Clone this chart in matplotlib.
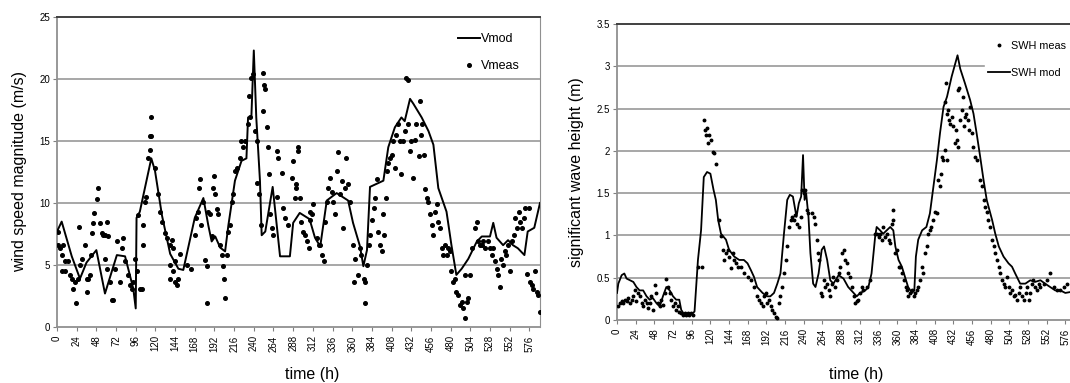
import matplotlib
matplotlib.use("Agg")
import matplotlib.pyplot as plt

plt.rcParams["font.family"] = ["Liberation Sans", "DejaVu Sans"]

# ---- left panel: wind speed (m/s) ----
vmod_t = [0, 5.7, 18, 28, 36, 48, 58.5, 73, 83, 93, 96, 97, 101, 115, 119.5, 128, 138, 148,
          154, 168, 178.5, 184.5, 188.6, 193, 199, 205, 209, 217, 225, 231, 233, 237, 240,
          243, 247.5, 249.6, 254, 263, 272, 284, 288, 296, 308, 314.6, 321, 329, 341, 355,
          361, 369.5, 373.6, 378, 381.7, 398, 404, 412, 420, 424, 430.5, 434.6, 444.7, 453,
          459, 465, 475, 481, 487, 493.5, 501.6, 512, 518, 528, 532, 536, 544, 550, 556, 562,
          570, 574, 582, 589]
vmod_v = [7.7, 8.5, 5.7, 3.9, 5.2, 6.2, 2.7, 5.8, 5.7, 3.1, 1.5, 8.8, 9.3, 13.6, 12.6, 9.0,
          5.9, 4.7, 4.6, 8.8, 10.4, 8.2, 6.9, 7.3, 6.4, 6.1, 8.2, 11.8, 13.4, 13.6, 16.9, 16.9,
          22.3, 16.9, 11.8, 7.4, 7.7, 11.3, 5.7, 5.7, 8.4, 9.2, 8.7, 7.2, 6.5, 10.2, 10.8, 10.2,
          8.4, 6.5, 4.9, 6.2, 11.3, 11.8, 14.5, 16.1, 16.9, 16.6, 18.4, 18.0, 16.9, 15.8, 14.7,
          11.2, 9.3, 6.6, 4.2, 4.7, 5.5, 6.9, 7.3, 7.3, 8.4, 7.2, 6.6, 7.0, 6.6, 6.35, 5.8, 7.7,
          8.0, 10.0]

vmeas_t = [0.8, 1.6, 3.7, 5.7, 7.7, 9.8, 13.8, 5.7, 9.8, 15.9, 17.9, 19.9, 22, 22.8, 26, 28,
           26.8, 30, 34, 36, 36, 38, 40, 42, 43, 44, 45.5, 48.4, 49.6, 52.4, 54.5, 56.5, 58.5,
           60.6, 62.6, 58.5, 60.6, 64.6, 66.7, 68.7, 70.7, 72.8, 76.8, 78.9, 80.9, 83, 87, 89,
           91, 93, 95, 97, 101, 104, 99, 105, 105, 107, 109, 111, 113, 115, 113, 114.6, 119.5,
           123.6, 125.6, 127.6, 131.7, 134, 138, 140, 142, 144, 138, 138, 142, 144, 146, 148,
           150, 158, 164, 168, 170, 172, 173, 174, 176, 178.5, 180.5, 182.5, 183, 184.5, 186.6,
           188.6, 190.7, 191.9, 192.7, 194.7, 196.7, 198.8, 200.8, 203, 204, 205, 207, 209, 211,
           213, 215, 217, 220, 223, 224, 227, 229, 233, 234.5, 235, 237, 239, 241.5, 243.5,
           243.5, 246, 249, 250.8, 252.8, 253.7, 251, 256, 257, 259, 259.8, 262, 264, 268, 268,
           270, 274, 276, 278, 282, 286, 288, 290, 292, 293.5, 294,
           292, 296, 298, 300, 302, 305, 307, 309, 309, 311, 312.6, 317, 319, 321, 323, 325,
           327, 329, 331, 333, 335, 337, 339, 341, 343, 345, 347, 349, 351, 353, 355, 357, 361,
           363, 362, 367, 369, 371, 374, 375, 376, 378, 380, 382, 384, 386, 388, 390, 392, 394,
           396, 398, 399, 401, 402, 404, 406, 408, 410, 412, 414, 416, 418, 420, 422, 424, 426,
           428, 428, 430.5, 432, 434, 436, 438, 441, 443, 444, 445, 447, 449, 451, 453, 455,
           457, 459, 461, 463, 465, 467, 469, 471, 473, 475, 477, 479, 481, 483, 485, 487, 489,
           491, 493.5, 495.5, 497.6, 499.6, 501.6, 497.6, 503.7, 505.7, 510, 512, 514, 516, 518,
           520, 522, 526, 528, 530, 532, 534, 536, 538, 540, 542, 544, 546, 548, 550, 553, 555,
           557, 559, 561, 563, 565, 567, 569, 571, 573, 575, 577, 579, 581, 583, 585, 587, 589]
vmeas_v = [7.7, 6.6, 6.4, 5.8, 6.6, 5.3, 5.3, 4.5, 4.5, 4.2, 3.9, 3.1, 3.6, 1.9, 3.9, 5.0,
           8.1, 5.5, 6.6, 3.9, 2.8, 3.9, 4.2, 5.8, 7.6, 8.4, 9.2, 10.3, 11.2, 8.4, 7.6, 7.4, 7.4,
           8.5, 7.3, 5.5, 4.7, 3.6, 2.2, 2.2, 4.7, 6.9, 3.6, 6.4, 7.2, 5.3, 4.2, 3.4, 3.1, 3.6,
           5.5, 4.5, 3.1, 3.1, 9.0, 6.6, 8.2, 10.1, 10.5, 13.6, 14.3, 15.4, 15.4, 16.9, 12.8,
           10.7, 9.3, 8.5, 7.6, 7.2, 6.6, 7.0, 6.4, 5.3, 5.0, 3.9, 4.5, 3.6, 3.4, 3.9, 5.9, 5.0,
           4.7, 7.4, 8.8, 9.3, 11.2, 11.9, 8.2, 10.1, 5.4, 4.9, 1.9, 9.3, 9.1, 7.3, 11.2, 12.2,
           10.7, 9.5, 9.1, 6.6, 5.8, 4.9, 3.9, 2.3, 5.8, 7.7, 8.2, 10.1, 10.7, 12.6, 12.8, 13.6,
           15.0, 14.5, 15.0, 16.4, 18.6, 16.9, 20.1, 20.4, 15.8, 15.0, 11.6, 10.7, 8.2, 20.5,
           19.5, 19.2, 17.4, 16.1, 14.5, 12.3, 9.1, 8.0, 7.4, 14.2, 10.5, 13.6, 12.4, 9.6, 8.8,
           8.2, 12.0, 13.4, 10.4, 11.2, 14.2, 14.5,
           11.5, 10.4, 8.5, 7.7, 7.4, 6.9, 6.4, 8.6, 9.3, 9.1, 9.9, 7.2, 6.6, 6.6, 5.8, 5.3,
           8.5, 10.1, 11.2, 12.0, 10.9, 10.1, 9.1, 12.6, 14.1, 10.7, 11.8, 8.0, 11.2, 13.6, 11.5,
           10.1, 6.6, 5.5, 3.6, 4.2, 6.4, 5.8, 3.9, 1.9, 3.6, 5.0, 6.6, 7.4, 8.6, 9.6, 10.4,
           11.9, 7.7, 6.6, 6.1, 9.1, 7.4, 10.4, 12.6, 13.2, 13.6, 13.9, 15.0, 12.8, 15.5, 16.4,
           15.0, 12.3, 15.0, 15.8, 20.1, 19.9, 16.4, 14.2, 15.0, 12.0, 15.1, 16.4, 13.8, 18.2,
           15.5, 16.4, 13.9, 11.1, 10.4, 10.1, 9.1, 8.2, 7.4, 9.3, 9.9, 8.5, 8.0, 6.4, 5.8, 6.6,
           5.8, 6.4, 6.1, 4.5, 3.6, 3.9, 2.8, 2.6, 1.8, 2.0, 1.5, 0.7, 2.0, 2.3, 4.2, 4.2, 6.4,
           8.0, 8.5, 6.9, 6.6, 6.6, 6.9, 6.4, 6.9, 6.4, 5.8, 6.4, 5.3, 4.7, 4.2, 3.2, 5.5, 5.0,
           6.1, 5.8, 6.6, 4.5, 6.9, 7.4, 8.8, 8.0, 9.3, 8.5, 8.0, 8.8, 9.6, 4.3, 9.6, 3.6, 3.4,
           3.1, 4.5, 2.8, 2.6, 1.2]

# ---- right panel: significant wave height (m) ----
swhmod_t = [0, 1.7, 6, 9.4, 12.3, 16.6, 21, 25, 29, 33.6, 38, 42, 46, 50.6, 55, 59, 63.4,
            67.7, 72, 76, 80, 82.5, 86.8, 95, 99.6, 104, 108, 111.5, 115.7, 120, 124, 127,
            130, 133.6, 140, 144, 150.6, 157, 163, 167.7, 172, 176, 180, 187, 193, 197, 201.7,
            206, 210, 214.5, 218.7, 222, 226, 230.6, 233.6, 236.6, 239, 241, 243, 246, 248.5,
            252, 255, 259, 263, 266, 270, 274, 278, 284.7, 291, 297, 304, 308, 312.5, 319, 323,
            327, 331.6, 333.6, 338, 342, 346.6, 351, 355, 357.6, 361.7, 366, 370, 374, 379, 382,
            384, 387, 392, 397.5, 402, 406.6, 411, 415, 419.5, 424, 430, 434.5, 437.5, 441, 447,
            453.7, 458, 462, 466.6, 471, 475, 482, 486, 490.5, 496.6, 503, 507.5, 511.6, 518,
            524.6, 531, 537, 544, 550, 556.5, 563, 569.5, 576, 582]
swhmod_h = [0.32, 0.43, 0.53, 0.55, 0.49, 0.47, 0.45, 0.39, 0.35, 0.35, 0.28, 0.24, 0.26,
            0.20, 0.16, 0.28, 0.39, 0.35, 0.28, 0.24, 0.24, 0.12, 0.06, 0.06, 0.10, 0.71, 1.06,
            1.69, 1.75, 1.73, 1.54, 1.42, 1.18, 1.02, 0.95, 0.83, 0.75, 0.71, 0.71, 0.67, 0.59,
            0.51, 0.39, 0.32, 0.28, 0.28, 0.32, 0.43, 0.55, 1.02, 1.42, 1.48, 1.46, 1.22, 1.38,
            1.46, 1.95, 1.42, 1.50, 1.22, 0.79, 0.43, 0.39, 0.55, 0.83, 0.87, 0.71, 0.47, 0.43,
            0.53, 0.49, 0.39, 0.32, 0.28, 0.32, 0.35, 0.39, 0.55, 0.98, 1.10, 1.06, 1.02, 1.06,
            1.10, 1.06, 0.87, 0.71, 0.63, 0.51, 0.39, 0.32, 0.35, 0.75, 0.95, 1.06, 1.10, 1.26,
            1.58, 1.89, 2.21, 2.52, 2.64, 2.88, 3.03, 3.13, 2.97, 2.80, 2.60, 2.44, 2.21, 1.93,
            1.65, 1.42, 1.18, 1.02, 0.87, 0.75, 0.67, 0.63, 0.55, 0.43, 0.43, 0.47, 0.45, 0.47,
            0.43, 0.39, 0.35, 0.35, 0.32, 0.33]

swhmeas_t = [1.7, 3.8, 6, 8, 10, 12.3, 14.5, 16.6, 18.7, 21, 23, 25, 27, 29.4, 31.5, 33.6,
             35.7, 38, 40, 42, 44, 46, 48.5, 50.6, 53, 55, 57, 59, 61.3, 63.4, 65.5, 67.7, 70,
             72, 74, 76, 78, 80, 82.5, 84.7, 86.8, 89, 91, 93, 95, 97.4, 104, 109, 112, 113,
             114.5, 115.7, 116.6, 118.7, 120.8, 123, 125, 127, 131.5, 133.6, 135.7, 138, 140,
             142, 144, 146, 148.5, 150.6, 152.8, 155, 159, 163, 167.7, 172, 176, 180, 182.5,
             184.7, 187, 189, 191, 193, 195, 197.4, 199.6, 201.7, 204, 205, 208, 210, 212,
             214.5, 216.6, 218.7, 221, 223, 225, 227, 229, 231.5, 234, 236, 238, 240, 242, 244,
             246, 250.6, 252.8, 255, 257, 258, 259, 262, 263, 265.5, 267.7, 270, 272, 274, 276,
             278, 280, 282.6, 285, 287,
             289, 291, 293, 296, 297, 299.5, 301.6, 304, 306, 308, 310, 312.5, 314.5, 316.6,
             321, 325, 331.6, 334, 336, 338, 340, 342, 344, 346.6, 349, 351, 353, 354, 355,
             357.6, 359.5, 361.7, 364, 366, 368.6, 370.7, 372.5, 374.5, 376.6, 379, 381, 383,
             385, 387, 389.5, 392, 393.5, 395.6, 398, 400, 402, 404, 406, 408, 410.6, 413, 415,
             416, 417, 419, 421.5, 424, 421.5, 422.8, 424, 425, 426, 428, 430, 432, 434, 435,
             437, 437.5, 438.7, 440, 441, 443, 444.5, 446, 447, 449, 451, 452.6, 454, 456, 458,
             460, 462, 466, 469, 471, 473, 475, 477, 479.5, 482, 484, 486, 488, 490.5, 492, 494,
             497, 498.7, 501, 503, 505, 507.5, 510, 511.6, 514, 516, 518, 520, 523, 525, 527,
             529, 531, 533, 535, 537.5, 539, 542, 544, 548, 552, 556.5, 561, 565, 569.5, 574,
             578]
swhmeas_h = [0.16, 0.20, 0.22, 0.20, 0.24, 0.22, 0.26, 0.20, 0.24, 0.28, 0.35, 0.22, 0.32,
             0.28, 0.20, 0.16, 0.24, 0.20, 0.14, 0.20, 0.28, 0.12, 0.41, 0.32, 0.20, 0.16, 0.24,
             0.18, 0.32, 0.49, 0.39, 0.32, 0.24, 0.16, 0.20, 0.12, 0.16, 0.10, 0.08, 0.06, 0.08,
             0.06, 0.08, 0.06, 0.08, 0.06, 0.63, 0.63, 2.36, 2.25, 2.19, 2.27, 2.09, 2.19, 2.13,
             1.99, 1.97, 1.85, 1.18, 0.99, 0.83, 0.71, 0.79, 0.83, 0.75, 0.61, 0.79, 0.71, 0.67,
             0.63, 0.63, 0.55, 0.51, 0.47, 0.39, 0.28, 0.24, 0.20, 0.16, 0.28, 0.32, 0.20, 0.24,
             0.16, 0.12, 0.08, 0.04, 0.02, 0.20, 0.28, 0.39, 0.55, 0.71, 0.87, 1.10, 1.18, 1.22,
             1.18, 1.24, 1.14, 1.10, 1.22, 1.54, 1.50, 1.54, 1.30, 1.26, 1.26, 1.22, 1.14, 0.95,
             0.79, 0.71, 0.32, 0.28, 0.47, 0.39, 0.43, 0.35, 0.28, 0.43, 0.51, 0.39, 0.47, 0.55,
             0.63,
             0.79, 0.83, 0.71, 0.67, 0.55, 0.51, 0.39, 0.28, 0.20, 0.22, 0.24, 0.32, 0.39, 0.35,
             0.39, 0.47, 1.02, 1.02, 0.98, 1.02, 0.95, 1.10, 0.98, 1.02, 0.95, 0.91, 1.14, 1.30,
             1.18, 0.79, 0.83, 0.63, 0.63, 0.55, 0.47, 0.39, 0.35, 0.28, 0.32, 0.35, 0.28, 0.32,
             0.35, 0.39, 0.47, 0.63, 0.55, 0.79, 0.87, 1.02, 1.06, 1.10, 1.18, 1.28, 1.26, 1.65,
             1.58, 1.73, 1.93, 1.89, 2.01, 1.89, 2.58, 2.80, 2.44, 2.48, 2.36, 2.32, 2.40, 2.29,
             2.09, 2.25, 2.13, 2.72, 2.05, 2.74, 2.36, 2.48, 2.64, 2.29, 2.40, 2.44, 2.36, 2.25,
             2.52, 2.21, 2.05, 1.93, 1.89, 1.65, 1.58, 1.42, 1.34, 1.28, 1.18, 1.10, 0.95, 0.87,
             0.79, 0.71, 0.63, 0.55, 0.47, 0.43, 0.39, 0.51, 0.39, 0.32, 0.35, 0.28, 0.30, 0.24,
             0.32, 0.39, 0.28, 0.24, 0.32, 0.39, 0.24, 0.32, 0.43, 0.47, 0.39, 0.35, 0.43, 0.39,
             0.43, 0.47, 0.55, 0.39, 0.35, 0.35, 0.39, 0.43]

time_ticks = list(range(0, 577, 24))
grid_col = "#a0a0a0"

fig = plt.figure(figsize=(10.7, 3.83), dpi=100)
ax1 = fig.add_axes([57 / 1070, 56 / 383, 483 / 1070, 310 / 383])
ax2 = fig.add_axes([617 / 1070, 63 / 383, 453 / 1070, 296 / 383])


def style_axes(ax, xmax, ymax, yticks, ylabels, ylabel, right_spine):
    ax.set_xlim(0, xmax)
    ax.set_ylim(0, ymax)
    ax.set_xticks(time_ticks)
    ax.set_xticklabels([str(t) for t in time_ticks], rotation=90, fontsize=7)
    ax.set_yticks(yticks)
    ax.set_yticklabels(ylabels, fontsize=7)
    ax.tick_params(axis="x", length=3, color="#808080", pad=3)
    ax.tick_params(axis="y", length=3, color="#808080", pad=2)
    for y in yticks[1:-1]:
        ax.axhline(y, color=grid_col, linewidth=1.3, zorder=0)
    ax.spines["top"].set_color("#404040")
    ax.spines["top"].set_linewidth(1.4)
    ax.spines["left"].set_color("#909090")
    ax.spines["bottom"].set_color("#909090")
    ax.spines["left"].set_linewidth(1.3)
    ax.spines["bottom"].set_linewidth(1.3)
    ax.spines["right"].set_visible(right_spine)
    ax.spines["right"].set_color("#909090")
    ax.set_ylabel(ylabel, fontsize=11.5)
    ax.set_xlabel("time (h)", fontsize=11.5)


style_axes(ax1, 589, 25, [0, 5, 10, 15, 20, 25], ["0", "5", "10", "15", "20", "25"],
           "wind speed magnitude (m/s)", True)
ax1.yaxis.set_label_coords(-0.063, 0.5)
ax1.xaxis.set_label_coords(0.528, -0.13)

ax1.plot(vmod_t, vmod_v, color="black", linewidth=1.4, label="Vmod", zorder=3)
ax1.plot(vmeas_t, vmeas_v, linestyle="none", marker="o", markersize=2.6, color="black",
         label="Vmeas", zorder=4)
ax1.legend(loc="upper left", bbox_to_anchor=(0.826, 0.955), frameon=False, fontsize=9,
           handlelength=1.7, handletextpad=0.1, labelspacing=1.2, borderaxespad=0,
           borderpad=0.2)

style_axes(ax2, 582, 3.5, [0, 0.5, 1, 1.5, 2, 2.5, 3, 3.5],
           ["0", "0.5", "1", "1.5", "2", "2.5", "3", "3.5"],
           "significant wave height (m)", False)
ax2.yaxis.set_label_coords(-0.072, 0.5)
ax2.xaxis.set_label_coords(0.528, -0.16)

ax2.plot(swhmeas_t, swhmeas_h, linestyle="none", marker="o", markersize=1.8, color="black",
         label="SWH meas", zorder=4)
ax2.plot(swhmod_t, swhmod_h, color="black", linewidth=1.3, label="SWH mod", zorder=3)
leg = ax2.legend(loc="upper left", bbox_to_anchor=(0.812, 0.955), frameon=True, fontsize=7.8,
                 handlelength=2.0, handletextpad=0.1, labelspacing=1.6, borderpad=0.3,
                 borderaxespad=0)
leg.get_frame().set_facecolor("white")
leg.get_frame().set_edgecolor("white")
leg.get_frame().set_alpha(1)
leg.set_zorder(5)

fig.savefig("out.png", dpi=100)
